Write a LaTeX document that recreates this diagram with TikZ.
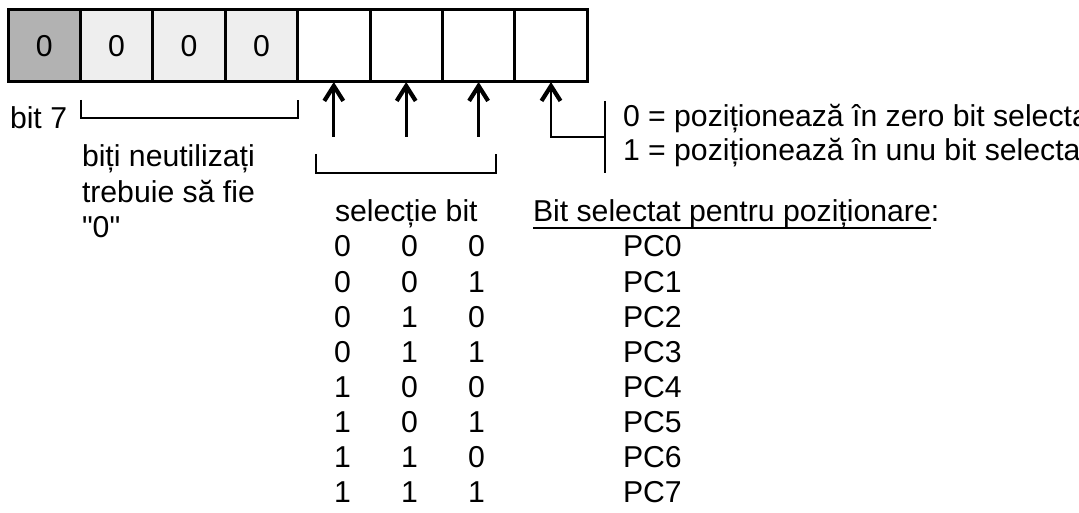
\documentclass[tikz,border=0pt]{standalone}
\usepackage{fontspec}
\setmainfont{Liberation Sans}
% same face without the TeX quote mapping, for straight quotes
\newfontfamily\straightq{Liberation Sans}
\usetikzlibrary{arrows.meta}

\definecolor{darkcell}{RGB}{178,178,178}
\definecolor{lightcell}{RGB}{238,238,238}

\tikzset{
  every node/.style={font=\fontsize{30.2}{35}\selectfont, inner sep=0pt, outer sep=0pt},
  cell/.style={draw, line width=3pt, minimum width=72.4pt, minimum height=72pt},
  wire/.style={line width=2.9pt},
  barb/.style={wire, -{Straight Barb[length=15pt, width=19pt, line width=4.2pt]}},
  txt/.style={anchor=base west},
  num/.style={anchor=base},
}

\begin{document}
\begin{tikzpicture}[x=1pt, y=-1pt]
  \useasboundingbox (0,0) rectangle (1079,513);

  % register cells, bit 7 on the left
  \node[cell, fill=darkcell]  (c7) at (44.2,46)  {0};
  \node[cell, fill=lightcell] (c6) at (116.6,46) {0};
  \node[cell, fill=lightcell] (c5) at (189.0,46) {0};
  \node[cell, fill=lightcell] (c4) at (261.4,46) {0};
  \node[cell, fill=white]     (c3) at (333.8,46) {};
  \node[cell, fill=white]     (c2) at (406.2,46) {};
  \node[cell, fill=white]     (c1) at (478.6,46) {};
  \node[cell, fill=white]     (c0) at (551.0,46) {};

  % bracket under the unused bits
  \coordinate (u1) at (81,100);
  \coordinate (u2) at (81,118);
  \coordinate (u3) at (298,118);
  \coordinate (u4) at (298,100);
  \draw[wire] (u1) -- (u2) -- (u3) -- (u4);

  % bit select arrows
  \coordinate (t3) at (333.8,137);
  \coordinate (t2) at (406.2,137);
  \coordinate (t1) at (478.6,137);
  \draw[barb] (t3) -- (c3.south);
  \draw[barb] (t2) -- (c2.south);
  \draw[barb] (t1) -- (c1.south);

  % bracket under the select arrows
  \coordinate (s1) at (316,154);
  \coordinate (s2) at (316,173);
  \coordinate (s3) at (496,173);
  \coordinate (s4) at (496,154);
  \draw[wire] (s1) -- (s2) -- (s3) -- (s4);

  % set / reset bit
  \coordinate (r0) at (605,137);
  \coordinate (v1) at (605,101);
  \coordinate (v2) at (605,173);
  \draw[barb] (r0) -| (c0.south);
  \draw[wire] (v1) -- (v2);

  \node[txt] (b7) at (10,129) {bit 7};

  \node[txt] (n1) at (82,167) {biți neutilizați};
  \node[txt] (n2) at (82,203) {trebuie să fie};
  \node[txt] (n3) at (82,238) {\straightq "0"};

  \node[txt] (m0) at (623,127) {0 = poziționează în zero bit selectat};
  \node[txt] (m1) at (623,161) {1 = poziționează în unu bit selectat};

  \node[txt] (sb) at (335,222) {selecție bit};
  \node[txt] (hd) at (533,222) {Bit selectat pentru poziționare};
  \node[txt] (hc) at (hd.base east) {:};
  \draw[line width=2.4pt] ([yshift=-6pt]hd.base west) -- ([yshift=-6pt]hd.base east);

  % truth table
  \foreach \a/\b/\c/\n [count=\i from 0] in
     {0/0/0/0, 0/0/1/1, 0/1/0/2, 0/1/1/3, 1/0/0/4, 1/0/1/5, 1/1/0/6, 1/1/1/7} {
    \pgfmathsetmacro{\yy}{257+35*\i}
    \node[num] (ra\i) at (342.5,\yy) {\a};
    \node[num] (rb\i) at (409.5,\yy) {\b};
    \node[num] (rc\i) at (476.5,\yy) {\c};
    \node[txt] (pc\i) at (623,\yy) {PC\n};
  }
\end{tikzpicture}
\end{document}
